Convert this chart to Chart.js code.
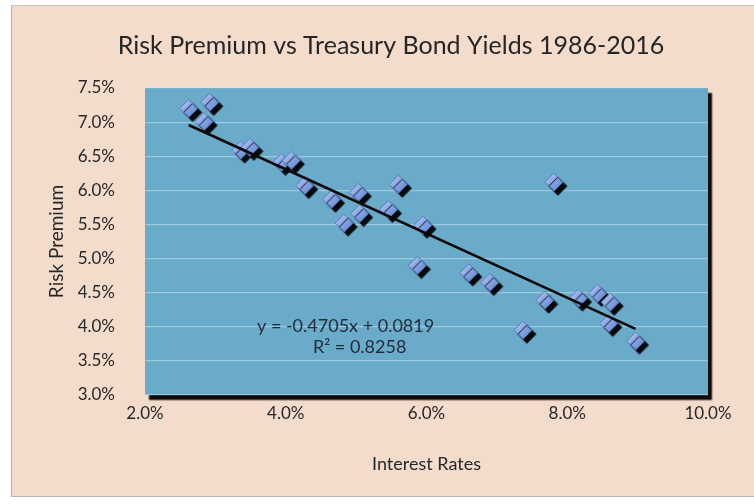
<!DOCTYPE html>
<html>
<head>
<meta charset="utf-8">
<script src="https://cdn.jsdelivr.net/npm/chart.js@4.4.1/dist/chart.umd.min.js"></script>
<style>
  html, body { margin: 0; padding: 0; background: #ffffff; }
  #frame { position: absolute; left: 11px; top: 5px; width: 743px; height: 492px;
           border-left: 1px solid #b9b4b0; border-top: 1px solid #c9c4c0; border-bottom: 1px solid #b9b4b0;
           background: #f4dccd; box-sizing: border-box; }
  #c { position: absolute; left: 0; top: 0; }
</style>
</head>
<body>
<div id="frame"><canvas id="c" width="742" height="490"></canvas></div>
<script>
// ---- data ----
const interestRates = [2.62, 2.92, 2.84, 3.36, 3.49, 3.94, 4.08, 4.27, 4.65, 5.03, 4.83, 5.05, 5.46,
                       5.60, 5.95, 5.87, 6.60, 6.90, 7.81, 7.68, 7.37, 8.16, 8.43, 8.61, 8.59, 8.97];
const riskPremiums  = [7.20, 7.29, 7.01, 6.59, 6.63, 6.41, 6.44, 6.07, 5.87, 5.97, 5.52, 5.66, 5.72,
                       6.09, 5.49, 4.90, 4.79, 4.65, 6.12, 4.39, 3.95, 4.42, 4.49, 4.36, 4.05, 3.79];
const xTicks = [2.0, 4.0, 6.0, 8.0, 10.0];
const yTicks = [3.0, 3.5, 4.0, 4.5, 5.0, 5.5, 6.0, 6.5, 7.0, 7.5];
const trendSlope = -0.4705;      // from the chart's trendline label
const trendIntercept = 0.0819;   // fraction -> 8.19 %
const equationLines = ['y = -0.4705x + 0.0819', 'R\u00B2 = 0.8258'];
const chartTitle = 'Risk Premium vs Treasury Bond Yields 1986-2016';

const points = interestRates.map((x, i) => ({ x: x, y: riskPremiums[i] }));
const xMin = Math.min(...interestRates), xMax = Math.max(...interestRates);
const trendPoints = [xMin, xMax].map(x => ({ x: x, y: trendSlope * x + trendIntercept * 100 }));

const FONT = 'Lato, "Noto Sans", sans-serif';
const TXT = '#262626';

const plotBg = {
  id: 'plotBg',
  beforeDraw(chart) {
    const { ctx, chartArea: a } = chart;
    ctx.save();
    ctx.shadowColor = 'rgba(0,0,0,0.95)';
    ctx.shadowOffsetX = 4;
    ctx.shadowOffsetY = 5;
    ctx.shadowBlur = 1.5;
    ctx.fillStyle = '#6aabc9';
    ctx.fillRect(a.left, a.top, a.right - a.left, a.bottom - a.top);
    ctx.restore();
  }
};

const markerShadow = {
  id: 'markerShadow',
  beforeDatasetDraw(chart, args) {
    if (args.index !== 0) return;
    const ctx = chart.ctx;
    ctx.save();
    ctx.shadowColor = 'rgba(0,0,0,0.95)';
    ctx.shadowOffsetX = 4;
    ctx.shadowOffsetY = 4;
    ctx.shadowBlur = 1;
  },
  afterDatasetDraw(chart, args) {
    if (args.index !== 0) return;
    chart.ctx.restore();
  }
};

const equationLabel = {
  id: 'equationLabel',
  afterDatasetsDraw(chart, args, opts) {
    const { ctx, scales } = chart;
    ctx.save();
    ctx.font = '18px ' + FONT;
    ctx.fillStyle = '#1f2b3a';
    ctx.textAlign = 'center';
    ctx.textBaseline = 'middle';
    opts.anchors.forEach((a, i) => {
      ctx.fillText(equationLines[i], scales.x.getPixelForValue(a.x), scales.y.getPixelForValue(a.y));
    });
    ctx.restore();
  }
};

function markerFill(c) {
  const chart = c.chart;
  const fallback = '#82a2e2';
  if (!c.parsed || !chart.scales || !chart.scales.x || !chart.scales.y) return fallback;
  const px = chart.scales.x.getPixelForValue(c.parsed.x);
  const py = chart.scales.y.getPixelForValue(c.parsed.y);
  if (!isFinite(px) || !isFinite(py)) return fallback;
  const g = chart.ctx.createLinearGradient(px - 7, py - 7, px + 7, py + 7);
  g.addColorStop(0, '#b0c6f0');
  g.addColorStop(0.5, '#85a4e4');
  g.addColorStop(1, '#6688d4');
  return g;
}

new Chart(document.getElementById('c'), {
  type: 'scatter',
  data: {
    datasets: [
      {
        label: 'Risk Premium',
        data: points,
        pointStyle: 'rectRot',
        pointRadius: 9,
        pointHoverRadius: 9,
        backgroundColor: markerFill,
        borderColor: '#5b7ac0',
        borderWidth: 1,
        order: 2
      },
      {
        label: 'Trend',
        type: 'line',
        data: trendPoints,
        borderColor: '#0a0a0a',
        borderWidth: 2.6,
        pointRadius: 0,
        fill: false,
        order: 1
      }
    ]
  },
  options: {
    responsive: false,
    animation: false,
    devicePixelRatio: 1,
    layout: { padding: { left: 16, right: 0, top: 0, bottom: 0 } },
    plugins: {
      legend: { display: false },
      tooltip: { enabled: false },
      title: {
        display: true,
        text: chartTitle,
        color: TXT,
        font: { family: FONT, size: 25, weight: 'normal' },
        padding: { top: 25, bottom: 27 }
      },
      equationLabel: { anchors: [{ x: 4.85, y: 4.01 }, { x: 5.05, y: 3.70 }] }
    },
    scales: {
      x: {
        type: 'linear',
        min: 2, max: 10,
        afterBuildTicks(axis) { axis.ticks = xTicks.map(v => ({ value: v })); },
        afterFit(axis) { axis.height = 101; },
        grid: { display: false },
        border: { display: false },
        ticks: {
          color: TXT, padding: 0,
          font: { family: FONT, size: 17 },
          callback: v => v.toFixed(1) + '%'
        },
        title: {
          display: true, text: 'Interest Rates', color: TXT,
          font: { family: FONT, size: 18 },
          padding: { top: 0, bottom: 21 }
        }
      },
      y: {
        type: 'linear',
        min: 3, max: 7.5,
        afterBuildTicks(axis) { axis.ticks = yTicks.map(v => ({ value: v })); },
        afterFit(axis) { axis.width = 117; },
        grid: { color: 'rgba(205,232,244,0.5)', lineWidth: 1.2, drawTicks: false },
        border: { display: false },
        ticks: {
          color: TXT, padding: 30,
          font: { family: FONT, size: 17 },
          callback: v => v.toFixed(1) + '%'
        },
        title: {
          display: true, text: 'Risk Premium', color: TXT,
          font: { family: FONT, size: 19 },
          padding: { top: 17, bottom: 0 }
        }
      },
      yRightSpace: {
        type: 'linear',
        position: 'right',
        display: true,
        afterFit(axis) { axis.width = 46; },
        grid: { display: false },
        border: { display: false },
        ticks: { display: false }
      }
    }
  },
  plugins: [plotBg, markerShadow, equationLabel]
});
</script>
</body>
</html>
